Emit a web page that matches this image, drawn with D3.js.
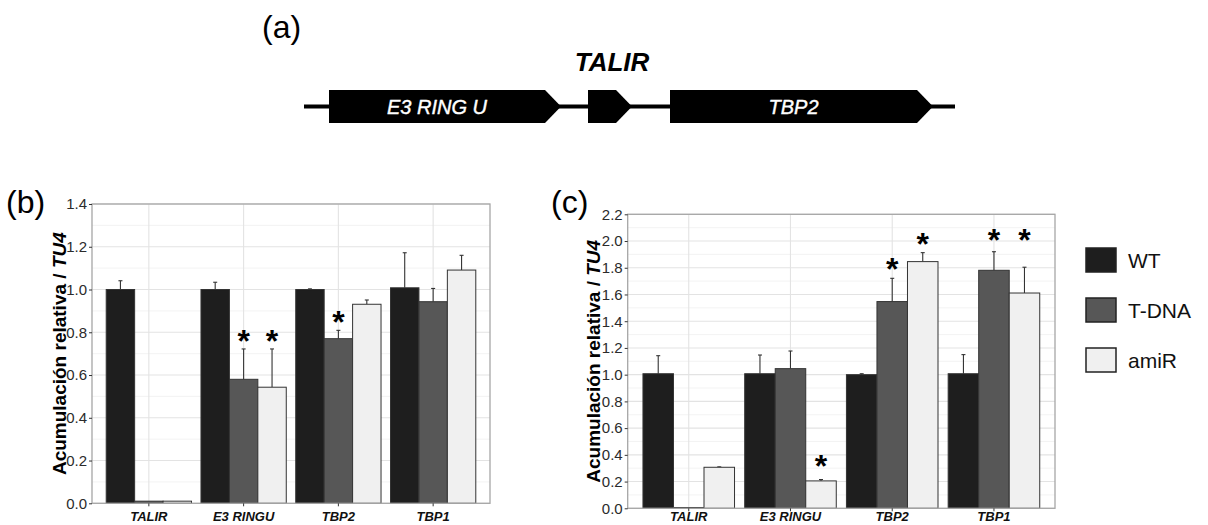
<!DOCTYPE html>
<html>
<head>
<meta charset="utf-8">
<script src="https://d3js.org/d3.v7.min.js"></script>
<style>
  body { margin: 0; background: #fff; font-family: "Liberation Sans", Arial, Helvetica, sans-serif; }
  .grid-major { stroke: #e3e3e3; stroke-width: 1.1px; }
  .grid-minor { stroke: #f0f0f0; stroke-width: 0.8px; }
  .tick-lab { font-size: 15px; fill: #2b2b2b; }
  .cat-lab { font-size: 13px; font-weight: bold; font-style: italic; fill: #111; }
</style>
</head>
<body>
<script>

// ---- data ----
var categories = ["TALIR", "E3 RINGU", "TBP2", "TBP1"];
var series = ["WT", "T-DNA", "amiR"];

// panel (b)
var b_WT   = [1.0, 1.0, 1.0, 1.008];
var b_TDNA = [0.01, 0.58, 0.77, 0.943];
var b_amiR = [0.01, 0.543, 0.931, 1.091];
var b_WT_err   = [0.041, 0.034, 0.003, 0.164];
var b_TDNA_err = [0, 0.142, 0.039, 0.062];
var b_amiR_err = [0, 0.179, 0.02, 0.069];
var b_stars = [["E3 RINGU", "T-DNA", 0.79], ["E3 RINGU", "amiR", 0.79], ["TBP2", "T-DNA", 0.88]];

// panel (c)
var c_WT   = [1.007, 1.007, 1.0, 1.007];
var c_TDNA = [0.006, 1.045, 1.547, 1.781];
var c_amiR = [0.307, 0.205, 1.846, 1.611];
var c_WT_err   = [0.135, 0.14, 0.007, 0.143];
var c_TDNA_err = [0, 0.132, 0.174, 0.139];
var c_amiR_err = [0.003, 0.01, 0.067, 0.193];
var c_stars = [["E3 RINGU", "amiR", 0.367], ["TBP2", "T-DNA", 1.846], ["TBP2", "amiR", 2.033],
               ["TBP1", "T-DNA", 2.058], ["TBP1", "amiR", 2.058]];

// gene diagram (a), relative positions along the locus
var geneNames = ["E3 RING U", "", "TBP2"];
var geneStart = [25, 284, 366];
var geneEnd   = [257, 328, 629];
var locusLength = 651;

var fills = ["#1e1e1e", "#575757", "#f0f0f0"];

// ---- drawing ----
var svg = d3.select("body").append("svg")
  .attr("width", 1208).attr("height", 525);

// (a)
svg.append("text").attr("x", 262).attr("y", 38)
  .style("font-size", "32px").text("(a)");

var gx = d3.scaleLinear().domain([0, locusLength]).range([304, 955]);
var geneTop = 90, geneBot = 123, geneMid = 106.5, tip = 16;

svg.append("line")
  .attr("x1", gx(0)).attr("x2", gx(locusLength))
  .attr("y1", geneMid).attr("y2", geneMid)
  .attr("stroke", "#000").attr("stroke-width", 4);

geneStart.forEach(function(s, i) {
  var x0 = gx(s), x1 = gx(geneEnd[i]);
  svg.append("path")
    .attr("d", "M" + x0 + "," + geneTop + "L" + (x1 - tip) + "," + geneTop +
               "L" + x1 + "," + geneMid + "L" + (x1 - tip) + "," + geneBot +
               "L" + x0 + "," + geneBot + "Z")
    .attr("fill", "#000");
  if (geneNames[i]) {
    svg.append("text")
      .attr("x", (x0 + x1 - tip) / 2).attr("y", geneMid + 7)
      .attr("text-anchor", "middle")
      .style("font-size", "20px").style("font-style", "italic").style("fill", "#fff")
      .style("stroke", "#fff").style("stroke-width", 0.4)
      .text(geneNames[i]);
  }
});

svg.append("text").attr("x", 612).attr("y", 71)
  .attr("text-anchor", "middle")
  .style("font-size", "26px").style("font-weight", "bold").style("font-style", "italic")
  .text("TALIR");

function drawPanel(p) {
  var g = svg.append("g");
  var x = d3.scaleBand().domain(categories).range([p.left, p.right])
    .paddingInner(0).paddingOuter(0.1);
  var xs = d3.scaleBand().domain(series).range([0, x.bandwidth() * 0.9]);
  var y = d3.scaleLinear().domain([0, p.ymax]).range([p.bottom, p.top]);
  var off = x.bandwidth() * 0.05;

  // grid
  var minor = d3.range(0.1, p.ymax, 0.2);
  g.selectAll(".gmin").data(minor).enter().append("line")
    .attr("class", "grid-minor")
    .attr("x1", p.left).attr("x2", p.right)
    .attr("y1", function(d) { return y(d); }).attr("y2", function(d) { return y(d); });
  g.selectAll(".gmaj").data(y.ticks(Math.round(p.ymax / 0.2))).enter().append("line")
    .attr("class", "grid-major")
    .attr("x1", p.left).attr("x2", p.right)
    .attr("y1", function(d) { return y(d); }).attr("y2", function(d) { return y(d); });
  g.selectAll(".gv").data(categories).enter().append("line")
    .attr("class", "grid-major")
    .attr("y1", p.top).attr("y2", p.bottom)
    .attr("x1", function(d) { return x(d) + x.bandwidth() / 2; })
    .attr("x2", function(d) { return x(d) + x.bandwidth() / 2; });

  // bars + error bars
  var rows = [];
  series.forEach(function(s, si) {
    categories.forEach(function(c, ci) {
      rows.push({cat: c, s: s, si: si, v: p.vals[si][ci], e: p.errs[si][ci]});
    });
  });
  rows.forEach(function(d) {
    var bx = x(d.cat) + off + xs(d.s);
    var cx = bx + xs.bandwidth() / 2;
    if (d.e > 0) {
      g.append("line").attr("x1", cx).attr("x2", cx)
        .attr("y1", y(d.v)).attr("y2", y(d.v + d.e))
        .attr("stroke", "#333").attr("stroke-width", 1.1);
      g.append("line").attr("x1", cx - 2).attr("x2", cx + 2)
        .attr("y1", y(d.v + d.e)).attr("y2", y(d.v + d.e))
        .attr("stroke", "#333").attr("stroke-width", 1.1);
    }
  });
  rows.forEach(function(d) {
    g.append("rect")
      .attr("x", x(d.cat) + off + xs(d.s))
      .attr("y", y(d.v))
      .attr("width", xs.bandwidth())
      .attr("height", y(0) - y(d.v))
      .attr("fill", fills[d.si])
      .attr("stroke", "#333").attr("stroke-width", 1);
  });

  // stars
  p.stars.forEach(function(st) {
    g.append("text")
      .attr("x", x(st[0]) + off + xs(st[1]) + xs.bandwidth() / 2)
      .attr("y", y(st[2]) + 18)
      .attr("text-anchor", "middle")
      .style("font-size", "32px").style("font-weight", "bold")
      .text("*");
  });

  // panel border
  g.append("rect").attr("x", p.left).attr("y", p.top)
    .attr("width", p.right - p.left).attr("height", p.bottom - p.top)
    .attr("fill", "none").attr("stroke", "#a6a6a6").attr("stroke-width", 1.3);

  // axes
  var yAxis = g.append("g").attr("transform", "translate(" + p.left + ",0)")
    .call(d3.axisLeft(y).ticks(Math.round(p.ymax / 0.2)).tickFormat(d3.format(".1f"))
      .tickSize(3).tickPadding(2));
  yAxis.select(".domain").remove();
  yAxis.selectAll("line").attr("stroke", "#333");
  yAxis.selectAll("text").attr("class", "tick-lab").attr("font-family", null).attr("font-size", null);

  var xAxis = g.append("g").attr("transform", "translate(0," + p.bottom + ")")
    .call(d3.axisBottom(x).tickSize(3).tickPadding(3));
  xAxis.select(".domain").remove();
  xAxis.selectAll("line").attr("stroke", "#333");
  xAxis.selectAll("text").attr("class", "cat-lab").attr("font-family", null).attr("font-size", null)
    .attr("dy", null).attr("y", 521 - p.bottom);

  // y title
  var t = g.append("text")
    .attr("transform", "translate(" + p.titleX + "," + (p.top + p.bottom) / 2 + ") rotate(-90)")
    .attr("text-anchor", "middle")
    .style("font-size", "19px").style("font-weight", "bold");
  t.append("tspan").text("Acumulación relativa / ");
  t.append("tspan").style("font-style", "italic").text("TU4");

  svg.append("text").attr("x", p.labX).attr("y", 213)
    .style("font-size", "32px").text(p.label);
}

drawPanel({
  left: 92, right: 490, top: 204, bottom: 503.3, ymax: 1.4,
  vals: [b_WT, b_TDNA, b_amiR], errs: [b_WT_err, b_TDNA_err, b_amiR_err],
  stars: b_stars, titleX: 66, label: "(b)", labX: 6
});
drawPanel({
  left: 627.7, right: 1055, top: 214.3, bottom: 508.3, ymax: 2.2,
  vals: [c_WT, c_TDNA, c_amiR], errs: [c_WT_err, c_TDNA_err, c_amiR_err],
  stars: c_stars, titleX: 600, label: "(c)", labX: 551
});

// legend
var leg = svg.append("g");
series.forEach(function(s, i) {
  var ly = 260 + i * 50;
  leg.append("rect").attr("x", 1086).attr("y", ly - 12)
    .attr("width", 30).attr("height", 24)
    .attr("fill", fills[i]).attr("stroke", "#222").attr("stroke-width", 1.5);
  leg.append("text").attr("x", 1128).attr("y", ly + 7.5)
    .style("font-size", "21px").style("fill", "#111").text(s);
});

</script>
</body>
</html>
